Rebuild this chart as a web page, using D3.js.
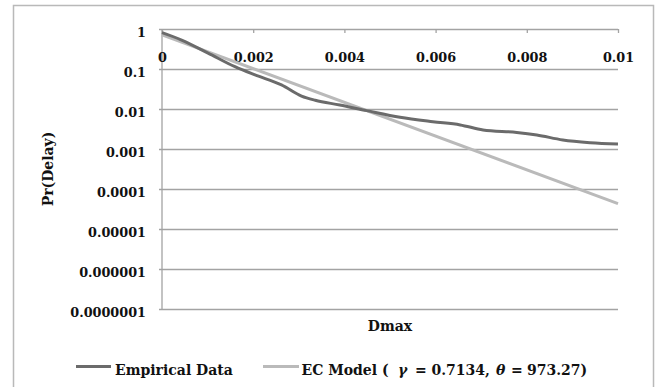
<!DOCTYPE html>
<html>
<head>
<meta charset="utf-8">
<script src="https://cdn.jsdelivr.net/npm/d3@7"></script>
<style>
  body { margin: 0; background: #fff; }
  text { font-family: "DejaVu Serif", serif; font-weight: bold; fill: #111; }
</style>
</head>
<body>
<svg id="chart" width="662" height="387"></svg>
<script>
// values
let empX = [0, 0.00043, 0.00101, 0.0016, 0.00204, 0.00262, 0.00306, 0.00336, 0.0039, 0.00449, 0.00522, 0.00594, 0.00654, 0.00704, 0.00778, 0.00822, 0.00879, 0.00939, 0.01];
let empY = [0.81, 0.53, 0.25, 0.114, 0.071, 0.04, 0.021, 0.0165, 0.0126, 0.0091, 0.0062, 0.0048, 0.004, 0.003, 0.0026, 0.00224, 0.00168, 0.00144, 0.00133];
let modelX = [0, 0.01];
let modelY = [0.7134, 0.000043];

let xTicks = [0, 0.002, 0.004, 0.006, 0.008, 0.01];
let xTickLabels = ["0", "0.002", "0.004", "0.006", "0.008", "0.01"];
let yTicks = [1, 0.1, 0.01, 0.001, 0.0001, 0.00001, 0.000001, 0.0000001];
let yTickLabels = ["1", "0.1", "0.01", "0.001", "0.0001", "0.00001", "0.000001", "0.0000001"];

let seriesNames = ["Empirical Data", "EC Model"];
let seriesColors = ["#6b6b6b", "#bababa"];

let svg = d3.select("#chart");

// outer frame
svg.append("rect")
   .attr("x", 13.5).attr("y", 5.5)
   .attr("width", 640).attr("height", 400)
   .attr("fill", "#fff")
   .attr("stroke", "#b9b9b9")
   .attr("stroke-width", 1.5);

let x = d3.scaleLinear().domain([0, 0.01]).range([162, 618]);
let y = d3.scaleLog().domain([0.0000001, 1]).range([309, 29]);

// gridlines + y labels
let yAxis = svg.append("g")
   .attr("transform", "translate(159,0)")
   .call(d3.axisLeft(y)
           .tickValues(yTicks)
           .tickSizeInner(-459)
           .tickSizeOuter(0)
           .tickPadding(13)
           .tickFormat((d, i) => yTickLabels[i]));
yAxis.select(".domain").remove();
yAxis.selectAll(".tick line").attr("stroke", "#a3a3a3").attr("stroke-width", 1.3);
yAxis.selectAll(".tick text")
     .attr("dy", "0.55em")
     .style("font-size", "12.8px")
     .style("font-family", "DejaVu Serif")
     .style("font-weight", "bold")
     .attr("fill", "#111");

// vertical axis line
svg.append("line")
   .attr("x1", 162).attr("x2", 162)
   .attr("y1", y(1)).attr("y2", y(0.0000001))
   .attr("stroke", "#a3a3a3").attr("stroke-width", 1.3);

// x axis sits on top (crosses at 1)
let xAxis = svg.append("g")
   .attr("transform", `translate(0,${y(1)})`)
   .call(d3.axisBottom(x)
           .tickValues(xTicks)
           .tickSizeInner(4)
           .tickSizeOuter(0)
           .tickPadding(20)
           .tickFormat((d, i) => xTickLabels[i]));
xAxis.select(".domain").remove();
xAxis.selectAll(".tick line").attr("stroke", "#a3a3a3").attr("stroke-width", 1.3);
xAxis.selectAll(".tick text")
     .style("font-size", "12.8px")
     .style("font-family", "DejaVu Serif")
     .style("font-weight", "bold")
     .attr("fill", "#111");

// lines
let line = d3.line()
             .x(d => x(d[0]))
             .y(d => y(d[1]))
             .curve(d3.curveMonotoneX);

svg.append("path")
   .datum(modelX.map((v, i) => [v, modelY[i]]))
   .attr("d", line)
   .attr("fill", "none")
   .attr("stroke", seriesColors[1])
   .attr("stroke-width", 3);

svg.append("path")
   .datum(empX.map((v, i) => [v, empY[i]]))
   .attr("d", line)
   .attr("fill", "none")
   .attr("stroke", seriesColors[0])
   .attr("stroke-width", 3);

// axis titles
svg.append("text")
   .attr("x", 390).attr("y", 330.5)
   .attr("text-anchor", "middle")
   .style("font-size", "14px")
   .text("Dmax");

svg.append("text")
   .attr("transform", "translate(53,169) rotate(-90)")
   .attr("text-anchor", "middle")
   .style("font-size", "14px")
   .text("Pr(Delay)");

// legend
let legendX = [76, 263];
let legend = svg.selectAll(".legend")
   .data(seriesNames)
   .enter()
   .append("g")
   .attr("class", "legend")
   .attr("transform", (d, i) => `translate(${legendX[i]},0)`);

legend.append("line")
      .attr("x1", 0).attr("x2", (d, i) => i == 0 ? 35 : 36)
      .attr("y1", 366.5).attr("y2", 366.5)
      .attr("stroke", (d, i) => seriesColors[i])
      .attr("stroke-width", 3);

legend.filter((d, i) => i == 0)
      .append("text")
      .attr("x", 39).attr("y", 375)
      .style("font-size", "14px")
      .text(d => d);

// EC label, pieces spaced like the equation editor output
let ec = legend.filter((d, i) => i == 1)
      .append("text")
      .attr("y", 375)
      .style("font-size", "14px");
ec.append("tspan").attr("x", 38.5).text(d => d + " (");
ec.append("tspan").attr("x", 135).style("font-style", "italic").text("γ");
ec.append("tspan").attr("x", 152).text("=");
ec.append("tspan").attr("x", 168.5).text("0.7134,");
ec.append("tspan").attr("x", 233).style("font-style", "italic").text("θ");
ec.append("tspan").attr("x", 248).text("=");
ec.append("tspan").attr("x", 264).text("973.27)");
</script>
</body>
</html>
